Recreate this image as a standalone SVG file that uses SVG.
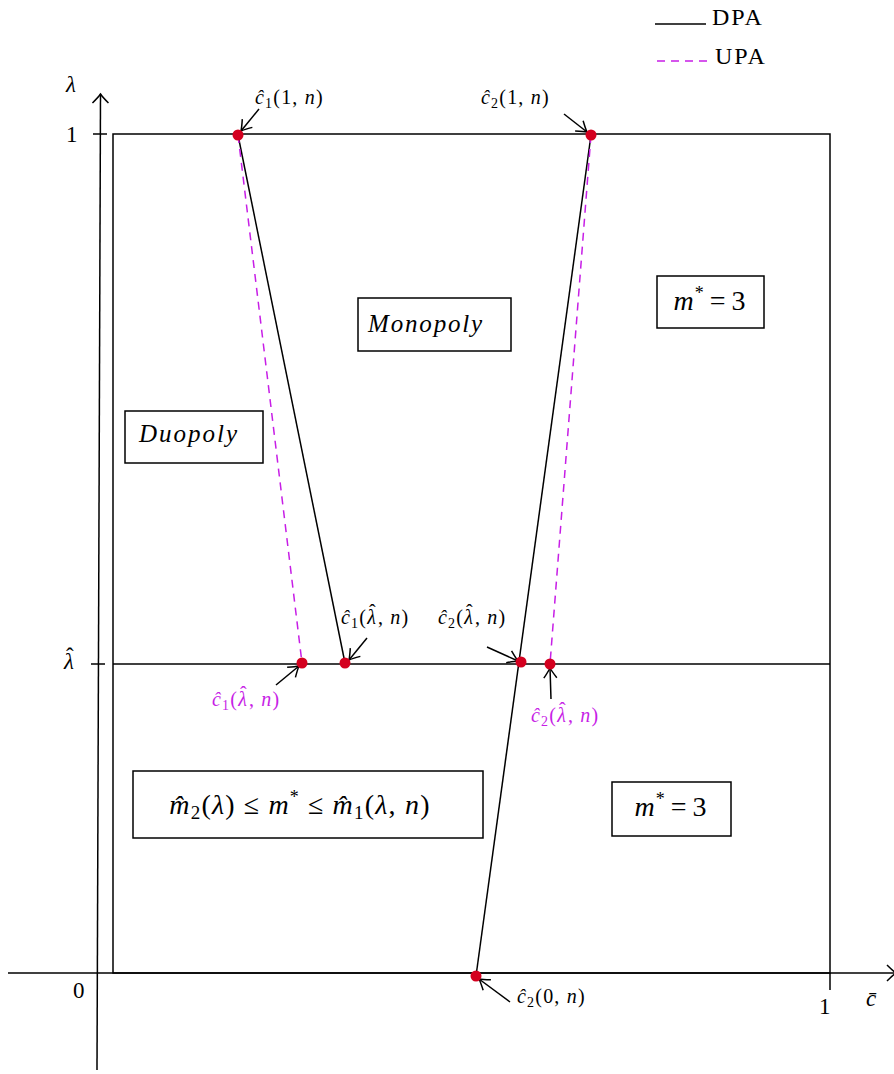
<svg xmlns="http://www.w3.org/2000/svg" width="894" height="1074" viewBox="0 0 894 1074">
<style>
.ln{stroke:#000;stroke-width:1.5;fill:none}
.up{stroke:#c71ee6;stroke-width:1.5;fill:none;stroke-dasharray:8 6}
.box{stroke:#000;stroke-width:1.5;fill:#fff}
.dot{fill:#d4001f}
.t{font-family:"Liberation Serif","DejaVu Serif",serif;fill:#000}
.lb{font-size:20px;letter-spacing:1.2px}
.it{font-style:italic}
.mg{fill:#c71ee6}
.ar{stroke:#000;stroke-width:1.5;fill:none}
</style>
<defs>
<marker id="ax" markerUnits="userSpaceOnUse" markerWidth="20" markerHeight="20" refX="0" refY="0" viewBox="-12 -10 14 20" orient="auto" overflow="visible">
<path d="M-9,-8 Q-3,-2 0,0 Q-3,2 -9,8" stroke="#000" stroke-width="1.5" fill="none"/>
</marker>
<marker id="ah" markerUnits="userSpaceOnUse" markerWidth="20" markerHeight="20" refX="0" refY="0" viewBox="-12 -10 14 20" orient="auto" overflow="visible">
<path d="M-10,-6.5 Q-3,-1.5 0,0 Q-3,1.5 -10,6.5" stroke="#000" stroke-width="1.5" fill="none"/>
</marker>
</defs>

<g id="axes">
<line class="ln" x1="97" y1="1070" x2="100.5" y2="94" marker-end="url(#ax)"/>
<line class="ln" x1="8" y1="973" x2="896" y2="973" marker-end="url(#ax)"/>
<line class="ln" x1="93" y1="134" x2="107" y2="134"/>
<line class="ln" x1="91" y1="664" x2="105" y2="664"/>
<line class="ln" x1="830" y1="973" x2="830" y2="990"/>
<text class="t it" x="66" y="92" font-size="23">λ</text>
<text class="t" x="66" y="142" font-size="23">1</text>
<text class="t" x="64" y="669" font-size="23"><tspan class="it">λ</tspan><tspan dx="-8" dy="-5">ˆ</tspan></text>
<text class="t" x="73" y="998" font-size="23">0</text>
<text class="t" x="819" y="1014" font-size="23">1</text>
<text class="t it" x="866" y="1006" font-size="23">c̄</text>
</g>

<g id="frame">
<rect x="113" y="134" width="717" height="839" class="ln"/>
<line class="ln" x1="113" y1="664" x2="830" y2="664"/>
</g>

<g id="connectors">
<line class="ln" x1="238" y1="135" x2="345" y2="663"/>
<line class="up" x1="238" y1="135" x2="302" y2="663"/>
<line class="ln" x1="591" y1="135" x2="476" y2="976"/>
<line class="up" x1="591" y1="135" x2="550" y2="664"/>
<line class="ar" x1="259" y1="109" x2="241" y2="131" marker-end="url(#ah)"/>
<line class="ar" x1="564" y1="114" x2="587" y2="132" marker-end="url(#ah)"/>
<line class="ar" x1="367" y1="638" x2="349" y2="660" marker-end="url(#ah)"/>
<line class="ar" x1="276" y1="685" x2="299" y2="666" marker-end="url(#ah)"/>
<line class="ar" x1="487" y1="647" x2="518" y2="661" marker-end="url(#ah)"/>
<line class="ar" x1="551" y1="699" x2="550" y2="668" marker-end="url(#ah)"/>
<line class="ar" x1="510" y1="1002" x2="479" y2="979" marker-end="url(#ah)"/>
</g>

<g id="points">
<circle class="dot" cx="238" cy="135" r="5.5"/>
<circle class="dot" cx="591" cy="135" r="5.5"/>
<circle class="dot" cx="345" cy="663" r="5.5"/>
<circle class="dot" cx="302" cy="663" r="5.5"/>
<circle class="dot" cx="521" cy="662" r="5.5"/>
<circle class="dot" cx="550" cy="664" r="5.5"/>
<circle class="dot" cx="476" cy="976" r="5.5"/>
</g>

<g id="labels">
<text class="t lb" x="255" y="104"><tspan class="it">ĉ</tspan><tspan font-size="14" dy="4">1</tspan><tspan dy="-4">(1, </tspan><tspan class="it">n</tspan>)</text>
<text class="t lb" x="481" y="104"><tspan class="it">ĉ</tspan><tspan font-size="14" dy="4">2</tspan><tspan dy="-4">(1, </tspan><tspan class="it">n</tspan>)</text>
<text class="t lb" x="341" y="624"><tspan class="it">ĉ</tspan><tspan font-size="14" dy="4">1</tspan><tspan dy="-4">(</tspan><tspan class="it">λ</tspan><tspan dx="-8" dy="-5">ˆ</tspan><tspan dx="1" dy="5">, </tspan><tspan class="it">n</tspan>)</text>
<text class="t lb" x="438" y="624"><tspan class="it">ĉ</tspan><tspan font-size="14" dy="4">2</tspan><tspan dy="-4">(</tspan><tspan class="it">λ</tspan><tspan dx="-8" dy="-5">ˆ</tspan><tspan dx="1" dy="5">, </tspan><tspan class="it">n</tspan>)</text>
<text class="t lb mg" x="212" y="706"><tspan class="it">ĉ</tspan><tspan font-size="14" dy="4">1</tspan><tspan dy="-4">(</tspan><tspan class="it">λ</tspan><tspan dx="-8" dy="-5">ˆ</tspan><tspan dx="1" dy="5">, </tspan><tspan class="it">n</tspan>)</text>
<text class="t lb mg" x="531" y="722"><tspan class="it">ĉ</tspan><tspan font-size="14" dy="4">2</tspan><tspan dy="-4">(</tspan><tspan class="it">λ</tspan><tspan dx="-8" dy="-5">ˆ</tspan><tspan dx="1" dy="5">, </tspan><tspan class="it">n</tspan>)</text>
<text class="t lb" x="517" y="1003"><tspan class="it">ĉ</tspan><tspan font-size="14" dy="4">2</tspan><tspan dy="-4">(0, </tspan><tspan class="it">n</tspan>)</text>
</g>

<g id="monopoly">
<rect class="box" x="358" y="298" width="153" height="53"/>
<text class="t it" x="426" y="332" font-size="25" letter-spacing="1.8" text-anchor="middle">Monopoly</text>
</g>
<g id="duopoly">
<rect class="box" x="125" y="411" width="138" height="52"/>
<text class="t it" x="189" y="442" font-size="25" letter-spacing="2" text-anchor="middle">Duopoly</text>
</g>
<g id="m3top">
<rect class="box" x="657" y="276" width="107" height="52"/>
<text class="t" x="710" y="310" font-size="28" letter-spacing="1" text-anchor="middle"><tspan class="it">m</tspan><tspan font-size="18" dy="-11">*</tspan><tspan dy="11" dx="5">=</tspan><tspan dx="5">3</tspan></text>
</g>
<g id="m3bot">
<rect class="box" x="612" y="782" width="119" height="54"/>
<text class="t" x="671" y="816" font-size="28" letter-spacing="1" text-anchor="middle"><tspan class="it">m</tspan><tspan font-size="18" dy="-11">*</tspan><tspan dy="11" dx="5">=</tspan><tspan dx="5">3</tspan></text>
</g>
<g id="range">
<rect class="box" x="133" y="771" width="350" height="67"/>
<text class="t" x="300" y="814" font-size="28" letter-spacing="1.2" text-anchor="middle"><tspan class="it">m̂</tspan><tspan font-size="19" dy="5">2</tspan><tspan dy="-5">(</tspan><tspan class="it">λ</tspan>)<tspan dx="8">≤</tspan><tspan class="it" dx="8">m</tspan><tspan font-size="18" dy="-11">*</tspan><tspan dy="11" dx="8">≤</tspan><tspan class="it" dx="8">m̂</tspan><tspan font-size="19" dy="5">1</tspan><tspan dy="-5">(</tspan><tspan class="it">λ</tspan>, <tspan class="it">n</tspan>)</text>
</g>

<g id="legend">
<line class="ln" x1="655" y1="24" x2="706" y2="24"/>
<text class="t" x="712" y="25" font-size="24" letter-spacing="2">DPA</text>
<line class="up" x1="657" y1="61" x2="708" y2="61" stroke-dasharray="9 8"/>
<text class="t" x="715" y="64" font-size="24" letter-spacing="2">UPA</text>
</g>
</svg>
